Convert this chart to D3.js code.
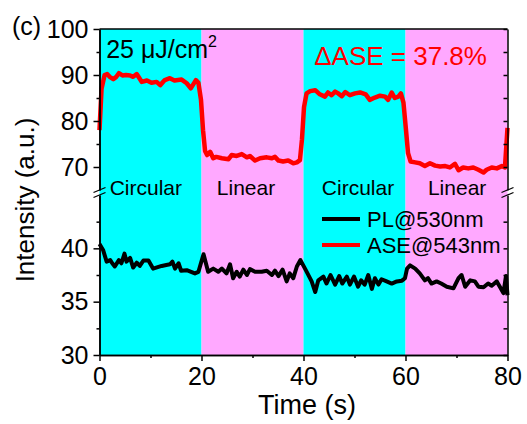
<!DOCTYPE html>
<html>
<head>
<meta charset="utf-8">
<script src="https://cdn.jsdelivr.net/npm/d3@7"></script>
<style>
  body { margin: 0; background: #fff; }
  svg { display: block; font-family: "Liberation Sans", Arial, sans-serif; }
  .axis path, .axis line { stroke: #000; stroke-width: 1.5; }
  .axis text { font-size: 25px; fill: #000; font-family: "Liberation Sans", Arial, sans-serif; }
</style>
</head>
<body>
<div id="chart"></div>
<script>
// ---- data ----
const bandStart = [0, 20, 40, 60];
const bandEnd = [20, 40, 60, 80];
const bandColor = ["#00ffff", "#ffa8ff", "#00ffff", "#ffa8ff"];
const bandLabel = ["Circular", "Linear", "Circular", "Linear"];
const bandLabelAt = [2, 23, 43.6, 64.4];

const aseTime = [0, 0.4, 1, 1.5, 2, 2.7, 3.3, 3.8, 4.5, 5.2, 6, 6.6, 7.3, 8.3, 9.3, 10.2, 11.2, 11.9, 12.8, 13.8,
  14.7, 15.4, 16.1, 17.1, 17.9, 18.9, 19.4, 19.9, 20.3, 20.7, 21.1, 21.7, 22.3, 22.9, 24, 25.3, 25.9, 26.9, 27.9, 28.9,
  29.5, 30.5, 31.5, 32.8, 33.8, 34.4, 35.1, 36, 37, 38, 38.7, 39.3, 39.7, 40.1, 40.6, 41.3, 42.3, 43.2, 44.2, 44.8,
  45.5, 46.2, 46.8, 47.5, 48.2, 49.1, 50.1, 51.1, 52.2, 53, 54, 55, 56, 56.6, 57.3, 57.9, 58.6, 59.1, 59.6, 60.1,
  60.5, 61, 61.9, 62.8, 63.8, 64.8, 65.8, 66.8, 67.8, 68.7, 69.7, 70.4, 71.3, 72.3, 73.3, 74.3, 75.3, 75.9, 76.9, 77.9,
  78.9, 79.5, 80];
const aseValue = [78, 87, 90.0, 90.2, 89.6, 89.1, 89.6, 90.4, 89.9, 90.0, 89.9, 89.6, 90.2, 88.5, 88.8, 88.3, 88.5, 87.8, 88.9, 89.3,
  88.8, 88.9, 89.0, 88.2, 87.1, 88.9, 88.3, 84.6, 78, 73.5, 72.6, 73.3, 71.9, 72.2, 71.9, 71.7, 72.6, 72.4, 72.8, 72.1,
  72.4, 71.4, 71.9, 72.1, 71.9, 72.2, 71.4, 71.2, 71.4, 70.8, 71.0, 71.5, 76, 83, 86.0, 86.5, 86.7, 85.8, 85.3, 86.2,
  85.6, 86.4, 86.0, 85.4, 86.3, 85.6, 86.0, 86.2, 85.8, 84.6, 85.1, 85.5, 85.3, 84.6, 86.2, 85.0, 85.3, 86.0, 84, 78,
  73, 71.2, 71.0, 70.8, 70.2, 70.8, 70.3, 70.1, 70.2, 69.9, 70.7, 69.3, 69.9, 69.7, 69.9, 69.4, 68.8, 69.4, 69.9, 69.7,
  70.2, 69.9, 78.5];

const plTime = [0, 0.7, 1.4, 2.1, 2.5, 3, 3.8, 4.3, 4.9, 5.3, 6, 6.6, 7.3, 7.9, 8.6, 9.6, 10.5, 12.2, 13.8, 14.3,
  14.8, 15.5, 16, 17.1, 18.7, 19.4, 20.4, 21.3, 22.3, 23.3, 24, 24.9, 25.6, 26.2, 26.9, 27.5, 28.2, 28.9, 29.5, 30.5,
  31.8, 32.8, 33.8, 34.4, 35.1, 35.9, 36.7, 37.3, 38, 38.7, 39.4, 40.4, 41.6, 42.3, 42.9, 43.9, 44.5, 45.3, 46.2, 47,
  47.6, 48.5, 49.1, 49.9, 50.7, 51.3, 52, 52.7, 53.4, 54, 54.7, 55.3, 56.3, 57.3, 58.3, 59.3, 59.9, 60.3, 60.9, 61.9,
  62.8, 63.8, 64.4, 65.1, 66.1, 67, 68.1, 69.4, 70.4, 71, 71.7, 72.7, 73.6, 74.3, 75.3, 76.2, 76.9, 77.9, 78.5, 79.2,
  79.7, 80];
const plValue = [40.4, 39.85, 38.75, 38.9, 38.6, 38.3, 38.9, 38.6, 39.5, 38.75, 39.1, 38.2, 38.65, 38.35, 38.85, 38.85, 38.1, 38.35, 38.5, 38.75,
  38.1, 38.6, 37.9, 37.95, 37.65, 37.8, 39.45, 37.8, 38.1, 37.8, 38.1, 37.65, 38.5, 37.2, 37.8, 37.35, 38.0, 37.5, 38.05, 37.8,
  37.8, 37.9, 37.5, 37.9, 37.4, 38.0, 36.9, 37.65, 37.2, 38.3, 38.9, 38.0, 36.9, 35.9, 37.0, 37.35, 36.7, 37.5, 36.6, 37.4,
  36.7, 37.35, 36.6, 37.35, 36.4, 37.0, 36.6, 37.5, 36.2, 37.2, 36.6, 37.1, 36.9, 36.7, 36.9, 36.97, 37.2, 38.1, 38.4, 38.1,
  37.65, 37.0, 37.2, 36.7, 36.9, 36.7, 36.4, 36.25, 37.2, 37.5, 36.4, 37.0, 36.9, 36.4, 36.35, 36.7, 36.5, 36.9, 36.4, 35.8,
  37.4, 35.6];

const xTicks = [0, 20, 40, 60, 80], xMinor = [10, 30, 50, 70];
const yTopTicks = [70, 80, 90, 100], yTopMinor = [75, 85, 95];
const yBotTicks = [30, 35, 40], yBotMinor = [32.5, 37.5, 42.5];
const legendNames = ["PL@530nm", "ASE@543nm"], legendColors = ["#000", "#ff0000"];

// ---- layout ----
const width = 527, height = 424;
const plotL = 99.5, plotR = 507.5, plotT = 29, plotB = 355;
const breakTop = 190, breakBot = 195;

const svg = d3.select("#chart").append("svg")
  .attr("width", width).attr("height", height);

const x = d3.scaleLinear().domain([0, 80]).range([plotL, plotR]);
const yTop = d3.scaleLinear().domain([65, 100]).range([breakTop, plotT]);
const yBot = d3.scaleLinear().domain([30, 45]).range([plotB, breakBot]);

// background bands
svg.selectAll("rect.band")
  .data(bandStart)
  .join("rect")
  .attr("x", (d, i) => x(d))
  .attr("width", (d, i) => x(bandEnd[i]) - x(d))
  .attr("y", plotT).attr("height", plotB - plotT)
  .attr("fill", (d, i) => bandColor[i]);

// lines
const aseData = aseTime.map((t, i) => ({ t, v: aseValue[i] }));
const plData = plTime.map((t, i) => ({ t, v: plValue[i] }));

svg.append("path").datum(aseData)
  .attr("d", d3.line().x(d => x(d.t)).y(d => yTop(d.v)))
  .attr("fill", "none").attr("stroke", "#ff0000")
  .attr("stroke-width", 4.5).attr("stroke-linejoin", "round");

svg.append("path").datum(plData)
  .attr("d", d3.line().x(d => x(d.t)).y(d => yBot(d.v)))
  .attr("fill", "none").attr("stroke", "#000")
  .attr("stroke-width", 4).attr("stroke-linejoin", "round");

// axes
svg.append("g").attr("class", "axis")
  .attr("transform", `translate(${plotL},0)`)
  .call(d3.axisLeft(yTop).tickValues(yTopTicks).tickSize(6).tickSizeOuter(0).tickPadding(5));
svg.append("g").attr("class", "axis")
  .attr("transform", `translate(${plotL},0)`)
  .call(d3.axisLeft(yTop).tickValues(yTopMinor).tickSize(3).tickSizeOuter(0).tickFormat(""));
svg.append("g").attr("class", "axis")
  .attr("transform", `translate(${plotL},0)`)
  .call(d3.axisLeft(yBot).tickValues(yBotTicks).tickSize(6).tickSizeOuter(0).tickPadding(5));
svg.append("g").attr("class", "axis")
  .attr("transform", `translate(${plotL},0)`)
  .call(d3.axisLeft(yBot).tickValues(yBotMinor).tickSize(3).tickSizeOuter(0).tickFormat(""));

// right side, ticks inside
svg.append("g").attr("class", "axis")
  .attr("transform", `translate(${plotR},0)`)
  .call(d3.axisLeft(yTop).tickValues(yTopTicks.concat(yTopMinor)).tickSize(4).tickSizeOuter(0).tickFormat(""));
svg.append("g").attr("class", "axis")
  .attr("transform", `translate(${plotR},0)`)
  .call(d3.axisLeft(yBot).tickValues(yBotTicks.concat(yBotMinor)).tickSize(4).tickSizeOuter(0).tickFormat(""));

svg.append("g").attr("class", "axis")
  .attr("transform", `translate(0,${plotB})`)
  .call(d3.axisBottom(x).tickValues(xTicks).tickSize(6).tickSizeOuter(0).tickPadding(6));
svg.append("g").attr("class", "axis")
  .attr("transform", `translate(0,${plotB})`)
  .call(d3.axisBottom(x).tickValues(xMinor).tickSize(3).tickSizeOuter(0).tickFormat(""));

svg.append("line")
  .attr("x1", plotL).attr("x2", plotR).attr("y1", plotT).attr("y2", plotT)
  .attr("stroke", "#000").attr("stroke-width", 1.5);

// break marks
for (const bx of [plotL, plotR]) {
  for (const by of [breakTop, breakBot]) {
    svg.append("line")
      .attr("x1", bx - 6).attr("y1", by + 2.5)
      .attr("x2", bx + 6).attr("y2", by - 2.5)
      .attr("stroke", "#000").attr("stroke-width", 1.2);
  }
}

// band labels
svg.selectAll("text.band")
  .data(bandLabel)
  .join("text")
  .attr("x", (d, i) => x(bandLabelAt[i]))
  .attr("y", 195)
  .attr("font-size", 21)
  .text(d => d);

svg.append("text")
  .attr("x", x(1.3)).attr("y", 58)
  .attr("font-size", 25)
  .html('25 \u03bcJ/cm<tspan font-size="16" dy="-11">2</tspan>');

svg.append("text")
  .attr("x", x(42.1)).attr("y", 65)
  .attr("font-size", 26).attr("fill", "#ff0000")
  .text("\u0394ASE = 37.8%");

svg.append("text")
  .attr("x", 12).attr("y", 35)
  .attr("font-size", 25)
  .text("(c)");

// legend
legendNames.forEach((name, i) => {
  const ly = 219 + i * 26;
  svg.append("line")
    .attr("x1", 322).attr("x2", 360).attr("y1", ly).attr("y2", ly)
    .attr("stroke", legendColors[i]).attr("stroke-width", 4);
  svg.append("text")
    .attr("x", 367).attr("y", ly + 7.5)
    .attr("font-size", 22)
    .text(name);
});

// axis titles
svg.append("text")
  .attr("text-anchor", "middle")
  .attr("x", 307).attr("y", 414)
  .attr("font-size", 27)
  .text("Time (s)");

svg.append("text")
  .attr("text-anchor", "middle")
  .attr("transform", "translate(34,200) rotate(-90)")
  .attr("font-size", 26)
  .text("Intensity (a.u.)");
</script>
</body>
</html>
